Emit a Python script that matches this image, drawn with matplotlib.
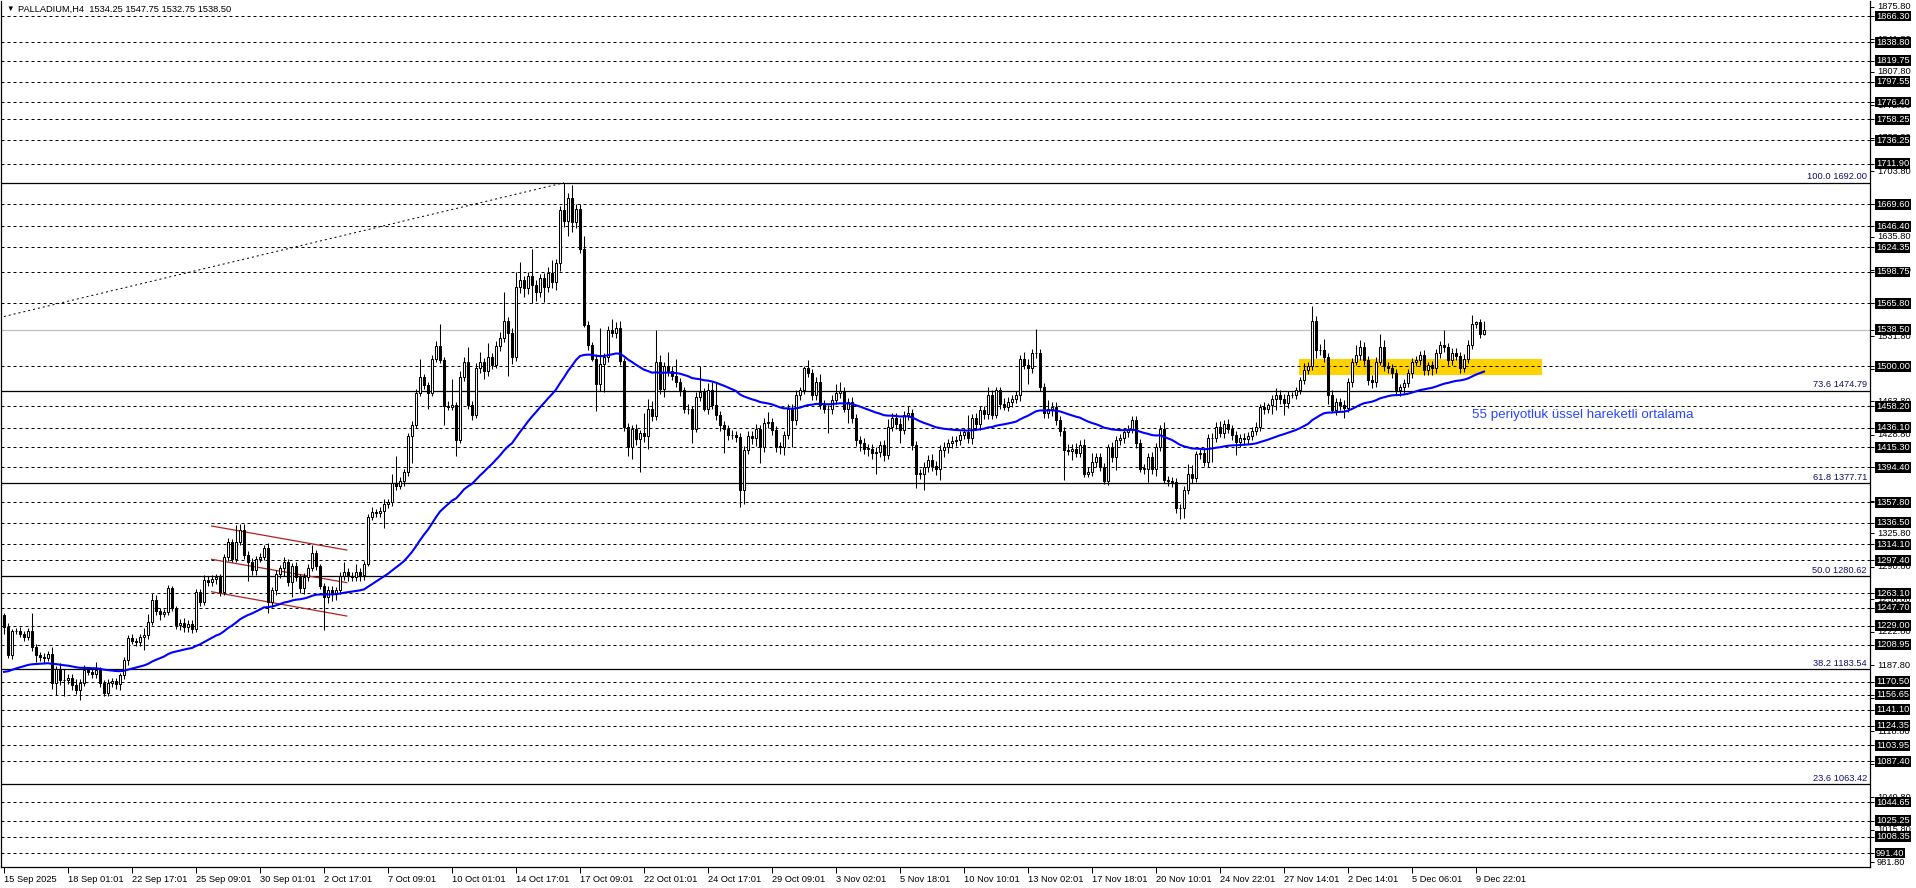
import numpy as np
import pandas as pd
import matplotlib
matplotlib.use("Agg")
import matplotlib.pyplot as plt
from matplotlib.patches import Rectangle
from matplotlib.transforms import blended_transform_factory

plt.rcParams['font.family'] = ['Liberation Sans', 'DejaVu Sans']

# PALLADIUM H4 - kapanışlar (grafikten okunmuş yaklaşık değerler)
first_open = 1240
closes = [
    1228, 1198, 1223, 1223, 1220, 1217, 1223, 1207, 1198, 1196,
    1195, 1199, 1169, 1184, 1172, 1172, 1174, 1167, 1162, 1169,
    1183, 1181, 1178, 1183, 1169, 1159, 1169, 1171, 1168, 1177,
    1193, 1216, 1213, 1212, 1217, 1219, 1233, 1256, 1244, 1241,
    1243, 1268, 1247, 1230, 1232, 1228, 1231, 1226, 1264, 1254,
    1277, 1275, 1278, 1280, 1264, 1301, 1317, 1299, 1316, 1329,
    1303, 1296, 1287, 1299, 1301, 1310, 1254, 1266, 1283, 1289,
    1296, 1275, 1291, 1280, 1268, 1280, 1289, 1305, 1291, 1271,
    1259, 1266, 1263, 1266, 1281, 1285, 1281, 1280, 1285, 1282,
    1294, 1343, 1348, 1347, 1349, 1356, 1358, 1378, 1375, 1380,
    1390, 1427, 1439, 1472, 1489, 1481, 1472, 1508, 1521, 1507,
    1459, 1458, 1460, 1423, 1489, 1505, 1460, 1449, 1498, 1505,
    1495, 1510, 1502, 1521, 1530, 1548, 1535, 1510, 1583, 1590,
    1582, 1595, 1585, 1578, 1592, 1583, 1598, 1588, 1608, 1663,
    1652, 1676, 1651, 1665, 1623, 1543, 1522, 1508, 1482, 1503,
    1510, 1538, 1535, 1540, 1506, 1437, 1416, 1435, 1424, 1430,
    1427, 1456, 1448, 1505, 1476, 1500, 1495, 1490, 1484, 1475,
    1456, 1455, 1435, 1468, 1473, 1456, 1475, 1460, 1449, 1439,
    1435, 1428, 1428, 1426, 1371, 1413, 1427, 1425, 1435, 1416,
    1441, 1442, 1434, 1416, 1416, 1428, 1456, 1444, 1470, 1475,
    1498, 1493, 1470, 1484, 1460, 1456, 1455, 1465, 1472, 1474,
    1456, 1463, 1446, 1423, 1420, 1414, 1414, 1409, 1411, 1418,
    1407, 1437, 1446, 1440, 1434, 1449, 1451, 1418, 1388, 1388,
    1395, 1402, 1396, 1393, 1413, 1416, 1420, 1422, 1423, 1428,
    1431, 1425, 1446, 1440, 1454, 1450, 1470, 1449, 1475, 1461,
    1458, 1463, 1466, 1470, 1508, 1502, 1498, 1514, 1514, 1479,
    1451, 1455, 1458, 1444, 1433, 1413, 1412, 1414, 1410, 1418,
    1388, 1390, 1400, 1405, 1395, 1380, 1416, 1405, 1423, 1425,
    1431, 1435, 1444, 1420, 1393, 1393, 1405, 1393, 1416, 1435,
    1381, 1380, 1379, 1352, 1352, 1371, 1388, 1383, 1408, 1410,
    1400, 1425, 1425, 1437, 1430, 1440, 1435, 1428, 1421, 1425,
    1424, 1427, 1432, 1437, 1458, 1455, 1460, 1466, 1470, 1466,
    1462, 1470, 1470, 1475, 1486, 1496, 1500, 1548, 1517, 1517,
    1510, 1470, 1454, 1463, 1460, 1457, 1484, 1505, 1512, 1520,
    1507, 1486, 1484, 1505, 1520, 1500, 1498, 1493, 1475, 1478,
    1483, 1493, 1505, 1507, 1512, 1496, 1501, 1498, 1514, 1522,
    1520, 1507, 1514, 1511, 1498, 1508, 1522, 1544, 1546, 1534.25,
    1538.5]
# üst fitil boyları
upper_wick = [
    2, 4, 3, 4, 5, 3, 4, 19, 3, 3,  4, 4, 8, 3, 6, 12, 4, 5, 6, 4,
    5, 3, 4, 8, 3, 3, 4, 3, 3, 3,  3, 3, 4, 3, 3, 8, 8, 7, 5, 4,
    3, 4, 3, 3, 4, 5, 4, 4, 3, 3,  5, 4, 4, 3, 3, 3, 4, 3, 18, 6,
    6, 4, 4, 3, 4, 3, 5, 3, 4, 3,  5, 3, 4, 5, 3, 4, 4, 8, 3, 3,
    3, 4, 4, 3, 4, 11, 4, 4, 8, 4,  3, 3, 5, 3, 4, 5, 3, 10, 28, 4,
    3, 3, 4, 4, 19, 3, 3, 4, 6, 23,  3, 5, 27, 3, 6, 5, 15, 4, 6, 10,
    4, 14, 4, 6, 6, 30, 4, 5, 16, 19,  5, 4, 28, 5, 5, 6, 6, 13, 4, 5,
    29, 5, 14, 5, 5, 13, 5, 4, 5, 37,  4, 4, 12, 6, 7, 3, 4, 4, 5, 4,
    21, 10, 8, 33, 7, 5, 15, 5, 18, 4,  4, 5, 4, 5, 27, 4, 8, 9, 24, 4,
    4, 4, 6, 4, 4, 4, 6, 5, 5, 4,  5, 10, 4, 4, 5, 4, 5, 5, 5, 4,
    2, 9, 4, 5, 8, 5, 4, 5, 10, 10,  5, 4, 5, 4, 4, 5, 5, 5, 5, 4,
    5, 8, 5, 5, 6, 4, 8, 4, 4, 5,  5, 5, 6, 5, 5, 5, 4, 5, 4, 5,
    5, 18, 4, 5, 5, 5, 8, 5, 4, 4,  6, 5, 4, 4, 4, 7, 6, 4, 25, 4,
    4, 10, 5, 5, 4, 4, 6, 5, 6, 5,  6, 5, 10, 5, 5, 4, 3, 5, 4, 4,
    4, 4, 4, 4, 4, 5, 4, 6, 4, 4,  7, 4, 4, 4, 4, 4, 10, 9, 4, 4,
    5, 4, 5, 5, 6, 4, 5, 4, 4, 4,  5, 4, 5, 5, 3, 5, 2, 4, 7, 5,
    5, 4, 3, 4, 3, 8, 5, 15, 5, 6,  12, 4, 5, 4, 4, 5, 4, 4, 10, 8,
    6, 4, 5, 5, 14, 8, 5, 5, 4, 4,  4, 4, 4, 4, 4, 5, 4, 5, 4, 5,
    16, 5, 5, 5, 4, 5, 6, 10, 2, 4,  9.25]
# alt fitil boyları
lower_wick = [
    8, 3, 4, 3, 3, 4, 3, 4, 7, 4,  5, 3, 6, 12, 5, 16, 4, 5, 4, 11,
    3, 4, 4, 4, 4, 4, 4, 4, 5, 6,  4, 5, 3, 4, 4, 13, 4, 3, 4, 6,
    3, 3, 3, 4, 6, 6, 6, 5, 4, 4,  3, 4, 5, 5, 4, 3, 4, 3, 3, 3,
    4, 20, 5, 5, 3, 3, 12, 5, 5, 4,  8, 4, 16, 4, 5, 6, 4, 3, 4, 4,
    35, 6, 8, 7, 4, 4, 5, 4, 4, 6,  5, 3, 4, 4, 4, 18, 4, 4, 4, 3,
    5, 4, 28, 3, 3, 5, 17, 3, 3, 3,  20, 4, 4, 17, 3, 4, 5, 5, 3, 5,
    8, 5, 5, 4, 5, 4, 45, 7, 4, 6,  9, 6, 19, 10, 5, 16, 5, 6, 8, 8,
    6, 16, 10, 6, 4, 2, 5, 2, 29, 8,  30, 5, 4, 5, 5, 5, 10, 13, 6, 34,
    6, 13, 5, 4, 5, 8, 5, 4, 5, 6,  5, 5, 15, 4, 4, 3, 6, 5, 5, 7,
    26, 5, 4, 5, 18, 15, 5, 6, 8, 17,  5, 5, 6, 5, 8, 9, 4, 28, 5, 5,
    4, 4, 5, 5, 5, 5, 25, 5, 4, 5,  4, 15, 5, 6, 8, 6, 8, 6, 21, 6,
    6, 4, 4, 5, 14, 5, 5, 5, 15, 6,  17, 5, 5, 6, 12, 8, 6, 5, 5, 5,
    4, 5, 6, 5, 6, 5, 5, 4, 3, 5,  4, 5, 5, 4, 6, 5, 16, 5, 5, 5,
    5, 5, 7, 5, 6, 32, 5, 10, 5, 5,  4, 4, 5, 5, 4, 3, 4, 5, 13, 5,
    5, 5, 5, 5, 3, 5, 14, 5, 8, 4,  3, 5, 5, 5, 11, 10, 4, 5, 4, 5,
    4, 5, 25, 4, 4, 5, 5, 5, 14, 5,  5, 5, 4, 4, 4, 5, 4, 10, 12, 5,
    13, 5, 3, 4, 4, 4, 4, 4, 8, 5,  5, 9, 2, 5, 6, 11, 5, 5, 4, 5,
    5, 5, 7, 5, 4, 5, 5, 5, 5, 6,  6, 5, 5, 5, 5, 5, 5, 7, 5, 5,
    5, 5, 5, 4, 5, 4, 4, 4, 4, 5,  1.5]

ema_period = 55
ema_seed = 1179

x_labels = ["15 Sep 2025", "18 Sep 01:01", "22 Sep 17:01", "25 Sep 09:01", "30 Sep 01:01",
            "2 Oct 17:01", "7 Oct 09:01", "10 Oct 01:01", "14 Oct 17:01", "17 Oct 09:01",
            "22 Oct 01:01", "24 Oct 17:01", "29 Oct 09:01", "3 Nov 02:01", "5 Nov 18:01",
            "10 Nov 10:01", "13 Nov 02:01", "17 Nov 18:01", "20 Nov 10:01", "24 Nov 22:01",
            "27 Nov 14:01", "2 Dec 14:01", "5 Dec 06:01", "9 Dec 22:01"]
bars_per_label = 16

# yatay kesikli seviyeler
dashed_levels = [1866.30, 1838.80, 1819.75, 1797.55, 1776.40, 1758.25, 1736.25, 1711.90,
                 1669.60, 1646.40, 1624.35, 1598.75, 1565.80, 1500.00, 1458.20, 1436.10,
                 1415.30, 1394.40, 1357.80, 1336.50, 1314.10, 1297.40, 1263.10, 1247.70,
                 1229.00, 1208.95, 1170.50, 1156.65, 1141.10, 1124.35, 1103.95, 1087.40,
                 1044.65, 1025.25, 1008.35, 991.40]
last_price = 1538.50
scale_ticks = [1875.80, 1841.80, 1807.80, 1772.80, 1738.80, 1703.80, 1669.80, 1635.80,
               1600.80, 1566.80, 1531.80, 1497.80, 1463.80, 1428.80, 1394.80, 1359.80,
               1325.80, 1290.80, 1256.80, 1222.80, 1187.80, 1153.80, 1118.80, 1084.80,
               1049.80, 1015.80, 981.80]

# Fibonacci
fib_ratios = ["100.0", "73.6", "61.8", "50.0", "38.2", "23.6"]
fib_levels = [1692.00, 1474.79, 1377.71, 1280.62, 1183.54, 1063.42]
fib_anchor_bars = [-684, 140]
fib_anchor_prices = [869.24, 1692.00]

# bayrak kanalı
channel_bars = [51.9, 85.7]
channel_upper = [1333.2, 1308.1]
channel_mid = [1298.4, 1274.0]
channel_lower = [1264.5, 1239.1]

# sarı bölge
zone_bars = [323.75, 384.5]
zone_prices = [1491.0, 1507.5]

note_text = "55 periyotluk üssel hareketli ortalama"
note_bar, note_price = 367, 1449

title = "PALLADIUM,H4  1534.25 1547.75 1532.75 1538.50"

# ---------------------------------------------------------------
W, H = 1916, 888
fig = plt.figure(figsize=(W / 100, H / 100), dpi=100)
ax = fig.add_axes([1 / W, 21 / H, 1869 / W, 866 / H])
ax.set_xlim(-0.75, 466.5)
ax.set_ylim(976.78, 1881.98)

c = np.array(closes, dtype=float)
o = np.concatenate([[first_open], c[:-1]])
hi = np.maximum(o, c) + np.array(upper_wick)
lo = np.minimum(o, c) - np.array(lower_wick)
idx = np.arange(len(c))

# seviyeler
ax.add_patch(Rectangle((zone_bars[0], zone_prices[0]), zone_bars[1] - zone_bars[0],
                       zone_prices[1] - zone_prices[0], fc='#ffd200', ec='none', zorder=1))
for lv in dashed_levels:
    ax.axhline(lv, color='black', lw=0.72, linestyle=(0, (3, 3)), zorder=2)
ax.axhline(last_price, color='#c0c0c0', lw=0.9, zorder=2)

trans = blended_transform_factory(fig.transFigure, ax.transData)
for r, lv in zip(fib_ratios, fib_levels):
    ax.axhline(lv, color='black', lw=0.9, zorder=2)
    ax.text(1867 / W, lv + 1.5, f"{r} {lv:.2f}", transform=trans, ha='right', va='bottom',
            fontsize=6.7, color='#10106a', zorder=6)

ax.plot(fib_anchor_bars, fib_anchor_prices, color='black', lw=0.72, linestyle=(0, (2, 3)), zorder=2)

for line in (channel_upper, channel_mid, channel_lower):
    ax.plot(channel_bars, line, color='#b22222', lw=0.9, zorder=2)

# mumlar
ax.vlines(idx, lo, hi, color='black', lw=0.75, zorder=3)
bull = c >= o
ax.bar(idx, np.maximum(np.abs(c - o), 0.4), bottom=np.minimum(o, c), width=0.55,
       color=np.where(bull, 'white', 'black'), edgecolor='black', linewidth=0.75, zorder=4)

# EMA 55
ema = pd.Series(np.concatenate([[ema_seed], c])).ewm(span=ema_period, adjust=False).mean().values[1:]
ax.plot(idx, ema, color='#0000ff', lw=1.5, zorder=5)

ax.text(note_bar, note_price, note_text, color='#2846ff', fontsize=9.6, ha='left', va='center', zorder=6)

# eksenler
ax.spines['top'].set_visible(False)
for s in ('left', 'right', 'bottom'):
    ax.spines[s].set_linewidth(0.9)
    ax.spines[s].set_color('black')

ax.yaxis.tick_right()
ax.set_yticks(sorted(scale_ticks + dashed_levels + [last_price]))
ax.tick_params(axis='y', length=3, width=0.72, labelright=False, labelleft=False)

label_bars = [i * bars_per_label for i in range(len(x_labels))]
ax.set_xticks(label_bars)
ax.set_xticklabels(x_labels, fontsize=6.7)
ax.tick_params(axis='x', length=4, width=0.72, pad=1.5)
for lbl in ax.get_xticklabels():
    lbl.set_ha('left')

for v in scale_ticks:
    ax.text(1877 / W, v, f"{v:.2f}", transform=trans, ha='left', va='center',
            fontsize=6.7, color='black', clip_on=False, zorder=7)
for v in dashed_levels + [last_price]:
    ax.text(1876 / W, v, f"{v:.2f}", transform=trans, ha='left', va='center',
            fontsize=6.7, color='white', clip_on=False, zorder=8,
            bbox=dict(boxstyle='square,pad=0.1', fc='black', ec='none'))

fig.text(6 / W, 1 - 9 / H, "▼", fontsize=5.5, ha='left', va='center')
fig.text(18 / W, 1 - 9 / H, title, fontsize=6.7, ha='left', va='center')

fig.savefig("out.png", dpi=100, facecolor='white')
